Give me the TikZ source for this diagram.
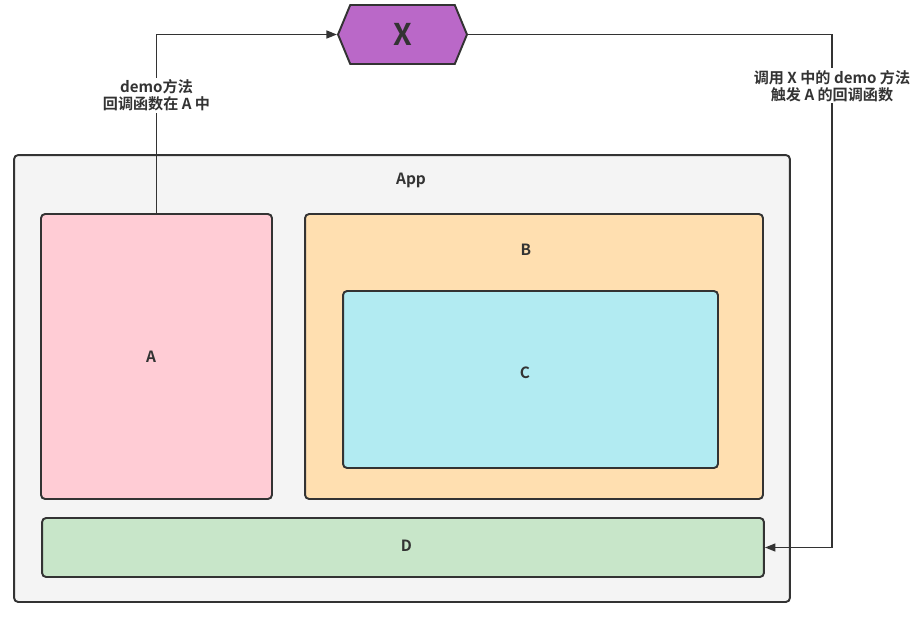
\documentclass[tikz,border=0pt]{standalone}
\usepackage{fontspec}
\setmainfont{Noto Sans CJK SC}[BoldFont={Noto Sans CJK SC Bold}]
\usepackage{xcolor}
\usetikzlibrary{arrows.meta}
\usetikzlibrary{shapes.symbols}
\definecolor{edgegray}{HTML}{333333}
\definecolor{appgray}{HTML}{F4F4F4}
\definecolor{apink}{HTML}{FFCCD5}
\definecolor{borange}{HTML}{FFDFB0}
\definecolor{ccyan}{HTML}{B2EBF2}
\definecolor{dgreen}{HTML}{C8E6C9}
\definecolor{xpurple}{HTML}{BA68C8}
\tikzset{
	box/.style={
		draw=edgegray, line width=1.1pt, rounded corners=2.3pt,
		text=edgegray, font=\bfseries\fontsize{8.8}{10}\selectfont,
	},
	every label/.style={text=edgegray, font=\bfseries\fontsize{8.8}{10}\selectfont},
	conn/.style={
		draw=edgegray, line width=1pt,
		-{Triangle[length=6pt,width=4.5pt]},
	},
	lbl/.style={
		fill=white, inner sep=1pt, align=center,
		text=edgegray, font=\bfseries\fontsize{8.6}{9.7}\selectfont,
	},
}

\begin{document}
\begin{tikzpicture}[x=0.02cm, y=-0.02cm]
	\useasboundingbox (0,0) rectangle (919,619);

	% App and its parts
	\node[box, fill=appgray, minimum width=15.52cm, minimum height=8.94cm,
		label={[anchor=center, xshift=0.18cm, yshift=-0.52cm]north:App}] (app) at (402,378.5) {};
	\node[box, fill=apink, minimum width=4.62cm, minimum height=5.7cm,
		label={[xshift=-0.11cm]center:A}] (a) at (156.5,356.5) {};
	\node[box, fill=borange, minimum width=9.16cm, minimum height=5.7cm,
		label={[anchor=center, xshift=-0.16cm, yshift=-0.73cm]north:B}] (b) at (534,356.5) {};
	\node[box, fill=ccyan, minimum width=7.5cm, minimum height=3.54cm,
		label={[xshift=-0.11cm, yshift=0.13cm]center:C}] (c) at (530.5,379.5) {};
	\node[box, fill=dgreen, minimum width=14.44cm, minimum height=1.18cm,
		label={[xshift=0.07cm, yshift=0.03cm]center:D}] (d) at (403,547.5) {};

	% X
	\node[box, fill=xpurple, rounded corners=0pt, signal, signal to=west and east,
		signal pointer angle=135, minimum width=2.58cm, minimum height=1.18cm,
		font=\bfseries\fontsize{17}{17}\selectfont] (x) at (402.5,34.5) {X};

	% A calls demo of X
	\draw[conn] (a.north) |- node[lbl, pos=0.33] {demo方法\\回调函数在 A 中} (x.west);

	% X calls back into A, shown to D
	\coordinate (turn) at (832,34.5);
	\draw[conn] (x.east) -- (turn) |- node[lbl, pos=0.05] {调用 X 中的 demo 方法\\触发 A 的回调函数} (d.east);
\end{tikzpicture}
\end{document}
